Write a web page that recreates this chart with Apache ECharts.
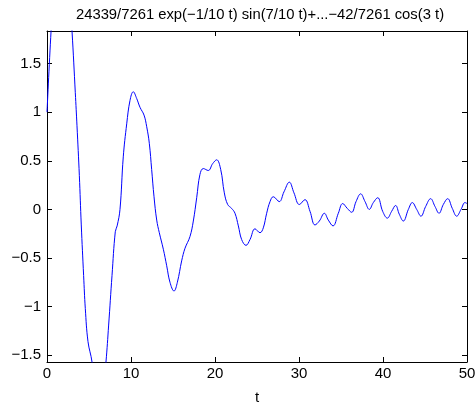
<!DOCTYPE html>
<html>
<head>
<meta charset="utf-8">
<script src="https://cdn.jsdelivr.net/npm/echarts@6/dist/echarts.min.js"></script>
<style>
  html, body { margin: 0; padding: 0; background: #fff; }
  #chart { width: 476px; height: 404px; }
</style>
</head>
<body>
<div id="chart"></div>
<script>
var titleText = '24339/7261 exp(\u22121/10 t) sin(7/10 t)+...\u221242/7261 cos(3 t)';

// samples
var tValues = [0, 0.48, 1.0, 1.7, 2.4, 2.98, 3.37, 3.57, 3.85, 4.08, 4.36, 4.56, 4.88, 5.36, 5.8, 6.2, 6.6, 7.02,
  7.34, 7.74, 8.13, 8.35, 8.69, 9.08, 9.49, 9.88, 10.27, 10.68, 11.07, 11.55, 11.87, 12.18, 12.46, 12.74,
  13.06, 13.37, 13.85, 14.25, 14.64, 15.12, 15.52, 16.03, 16.43, 17.02, 17.42, 17.82, 18.21, 18.61, 19.2,
  19.72, 20.2, 20.68, 21.11, 21.51, 21.98, 22.38, 22.78, 23.17, 23.69, 24.17, 24.76, 25.36, 25.75, 26.15,
  26.55, 26.94, 27.65, 28.21, 28.85, 29.4, 30.04, 30.71, 31.31, 31.9, 32.42, 33.02, 33.49, 34.05, 34.68,
  35.2, 35.75, 36.27, 36.79, 37.34, 37.86, 38.37, 38.85, 39.37, 39.96, 40.52, 41.03, 41.5, 41.94, 42.42,
  43.02, 43.49, 44.01, 44.52, 45.08, 45.67, 46.19, 46.67, 47.18, 47.7, 48.25, 48.77, 49.29, 49.76, 50];
var yValues = [1.0, 1.83, 2.56, 2.93, 2.62, 1.83, 1.2, 0.86, 0.35, -0.16, -0.68, -1.02, -1.36, -1.57, -1.95, -2.05, -1.93, -1.57,
  -1.19, -0.68, -0.23, -0.17, 0.0, 0.54, 0.88, 1.12, 1.21, 1.14, 1.05, 0.97, 0.85, 0.68, 0.41, 0.13,
  -0.11, -0.24, -0.41, -0.58, -0.75, -0.84, -0.75, -0.53, -0.4, -0.28, -0.12, 0.12, 0.36, 0.42, 0.4,
  0.47, 0.51, 0.41, 0.17, 0.05, 0.01, -0.04, -0.17, -0.31, -0.37, -0.31, -0.2, -0.24, -0.19, -0.04,
  0.08, 0.13, 0.08, 0.18, 0.28, 0.17, 0.05, 0.1, -0.02, -0.16, -0.12, -0.04, -0.11, -0.17, -0.04,
  0.06, 0.01, -0.03, 0.08, 0.16, 0.08, 0.0, 0.07, 0.12, -0.02, -0.09, -0.02, 0.04, -0.05, -0.12,
  0.0, 0.07, 0.0, -0.07, 0.03, 0.11, 0.03, -0.04, 0.05, 0.11, 0.01, -0.07, 0.0, 0.07, 0.06];

var xTicks = [0, 10, 20, 30, 40, 50];
var yTicks = [-1.5, -1, -0.5, 0, 0.5, 1, 1.5];

var dom = document.getElementById('chart');
var myChart = echarts.init(dom);

var points = tValues.map(function (t, i) { return [t, yValues[i]]; });

function minusFmt(v) {
  return (v < 0 ? '\u2212' : '') + Math.abs(v);
}

var fontFam = 'Liberation Sans, Arial, Helvetica, sans-serif';
var lineStyle = { color: '#000', width: 1 };

var option = {
  backgroundColor: '#fff',
  animation: false,
  grid: { left: 47, right: 9, top: 31, bottom: 42, containLabel: false, outerBoundsMode: 'none' },
  graphic: [{
    type: 'text',
    x: 260,
    y: 7,
    style: {
      text: titleText,
      textAlign: 'center',
      fill: '#000',
      font: '14.8px ' + fontFam
    }
  }],
  xAxis: [{
    type: 'value', min: 0, max: 50, position: 'bottom',
    name: 't', nameLocation: 'middle', nameGap: 28,
    nameTextStyle: { color: '#000', fontSize: 15, fontFamily: fontFam },
    axisLine: { show: true, onZero: false, lineStyle: lineStyle },
    axisTick: { show: true, inside: true, length: 5, lineStyle: lineStyle, customValues: xTicks },
    axisLabel: { color: '#000', fontSize: 15, fontFamily: fontFam, margin: 4, customValues: xTicks },
    splitLine: { show: false }
  }, {
    type: 'value', min: 0, max: 50, position: 'top',
    axisLine: { show: true, onZero: false, lineStyle: lineStyle },
    axisTick: { show: true, inside: true, length: 5, lineStyle: lineStyle, customValues: xTicks },
    axisLabel: { show: false },
    splitLine: { show: false }
  }],
  yAxis: [{
    type: 'value', min: -1.57, max: 1.835, position: 'left',
    axisLine: { show: true, onZero: false, lineStyle: lineStyle },
    axisTick: { show: true, inside: true, length: 5, lineStyle: lineStyle, customValues: yTicks },
    axisLabel: { color: '#000', fontSize: 15, fontFamily: fontFam, margin: 6, customValues: yTicks, formatter: minusFmt },
    splitLine: { show: false }
  }, {
    type: 'value', min: -1.57, max: 1.835, position: 'right',
    axisLine: { show: true, onZero: false, lineStyle: lineStyle },
    axisTick: { show: true, inside: true, length: 5, lineStyle: lineStyle, customValues: yTicks },
    axisLabel: { show: false },
    splitLine: { show: false }
  }],
  series: [{
    type: 'line',
    data: points,
    xAxisIndex: 0,
    yAxisIndex: 0,
    smooth: 0.4,
    showSymbol: false,
    clip: true,
    lineStyle: { color: '#0000ff', width: 1 }
  }]
};

window.onresize = function () {
  myChart.resize();
};

if (option && typeof option === 'object') {
  myChart.setOption(option);
}
</script>
</body>
</html>
